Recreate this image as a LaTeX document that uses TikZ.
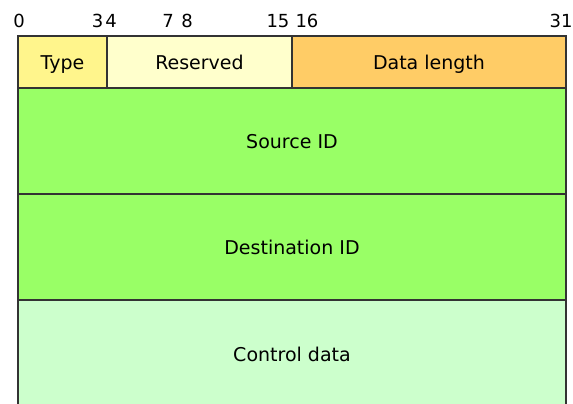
\documentclass[tikz,border=0pt]{standalone}
\usepackage{fontspec}
\setmainfont{DejaVu Sans}
\definecolor{typecol}{HTML}{FFF58C}
\definecolor{rescol}{HTML}{FFFFCC}
\definecolor{lencol}{HTML}{FFCC66}
\definecolor{idcol}{HTML}{99FF66}
\definecolor{ctlcol}{HTML}{CCFFCC}
\definecolor{edge}{HTML}{333333}
\tikzset{
  field/.style={draw=edge,line width=1.2pt,inner sep=0pt,text height=15pt,text depth=0pt,
    font=\fontsize{19}{22}\selectfont},
  bitno/.style={font=\fontsize{18}{21}\selectfont,inner sep=0pt}
}
\begin{document}
\begin{tikzpicture}[x=1pt,y=-1pt]
\useasboundingbox (0,0) rectangle (573,404);
\clip (0,0) rectangle (573,404);
\node[field,fill=typecol,minimum width=89pt,minimum height=52pt] (type) at (62.5,62) {Type};
\node[field,fill=rescol,minimum width=185pt,minimum height=52pt] (res) at (199.5,62) {Reserved};
\node[field,fill=lencol,minimum width=274pt,minimum height=52pt] (len) at (429,62) {Data length};
\node[field,fill=idcol,minimum width=548pt,minimum height=106pt] (src) at (292,141) {Source ID};
\node[field,fill=idcol,minimum width=548pt,minimum height=106pt] (dst) at (292,247) {Destination ID};
\node[field,fill=ctlcol,minimum width=548pt,minimum height=120pt] (ctl) at (292,360) {};
\node[field,draw=none] (ctltext) at (292,354) {Control data};
\node[bitno] (b0) at (19,21) {0};
\node[bitno] (b3) at (97.5,21) {3};
\node[bitno] (b4) at (111,21) {4};
\node[bitno] (b7) at (168,21) {7};
\node[bitno] (b8) at (187,21) {8};
\node[bitno] (b15) at (278,21) {15};
\node[bitno] (b16) at (307,21) {16};
\node[bitno] (b31) at (561,21) {31};
\end{tikzpicture}
\end{document}
